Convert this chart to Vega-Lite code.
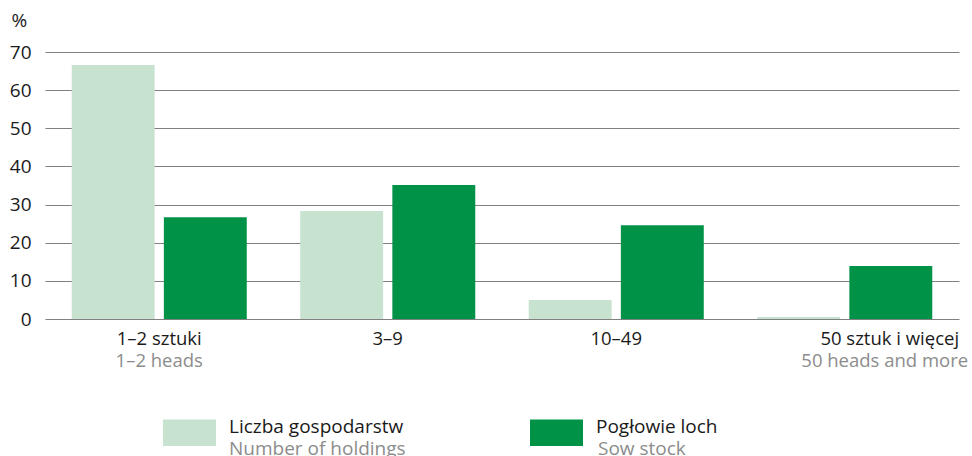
{
  "$schema": "https://vega.github.io/schema/vega-lite/v6.json",
  "width": 914,
  "height": 267,
  "autosize": {"type": "none"},
  "padding": {"left": 45, "top": 52, "right": 13, "bottom": 137},
  "config": {"font": "Open Sans", "view": {"stroke": null}},
  "data": {
    "values": [
      {"category": "1–2 sztuki", "series": "Liczba gospodarstw", "series_en": "Number of holdings", "value": 66.6},
      {"category": "1–2 sztuki", "series": "Pogłowie loch", "series_en": "Sow stock", "value": 26.7},
      {"category": "3–9", "series": "Liczba gospodarstw", "series_en": "Number of holdings", "value": 28.3},
      {"category": "3–9", "series": "Pogłowie loch", "series_en": "Sow stock", "value": 35.1},
      {"category": "10–49", "series": "Liczba gospodarstw", "series_en": "Number of holdings", "value": 5.0},
      {"category": "10–49", "series": "Pogłowie loch", "series_en": "Sow stock", "value": 24.6},
      {"category": "50 sztuk i więcej", "series": "Liczba gospodarstw", "series_en": "Number of holdings", "value": 0.5},
      {"category": "50 sztuk i więcej", "series": "Pogłowie loch", "series_en": "Sow stock", "value": 13.9}
    ]
  },
  "layer": [
    {
      "mark": {"type": "bar"},
      "encoding": {
        "x": {
          "field": "category", "type": "nominal",
          "sort": ["1–2 sztuki", "3–9", "10–49", "50 sztuk i więcej"],
          "scale": {"paddingInner": 0.234, "paddingOuter": 0.117},
          "axis": {
            "title": null, "orient": "bottom", "labelAngle": 0, "ticks": false, "domain": false, "grid": false,
            "labelFontSize": 18.5, "labelColor": "#1a1a1a", "labelPadding": 10, "labelOverlap": false, "labelBound": false,
            "labelOffset": {"condition": {"test": "datum.value === '50 sztuk i więcej'", "value": 45}, "value": 0}
          }
        },
        "xOffset": {"field": "series", "type": "nominal", "scale": {"paddingInner": 0.1, "paddingOuter": 0}},
        "y": {
          "field": "value", "type": "quantitative",
          "scale": {"domain": [0, 70], "nice": false},
          "axis": {
            "title": "%", "titleAngle": 0, "titleAlign": "left", "titleBaseline": "middle", "titleX": -34, "titleY": -32,
            "titleFontSize": 19, "titleFontWeight": "normal", "titleColor": "#1a1a1a",
            "values": [0, 10, 20, 30, 40, 50, 60, 70],
            "labelFontSize": 19, "labelColor": "#1a1a1a", "labelPadding": 14, "ticks": false, "domain": false,
            "gridColor": "#808080", "gridWidth": 1.2
          }
        },
        "color": {
          "field": "series", "type": "nominal",
          "scale": {"domain": ["Liczba gospodarstw", "Pogłowie loch"], "range": ["#c8e2d0", "#009348"]},
          "legend": {
            "orient": "none", "legendX": 118, "legendY": 354, "direction": "horizontal", "title": null,
            "symbolType": "M-1,-0.5H1V0.5H-1Z", "symbolSize": 2809, "symbolStrokeWidth": 0, "symbolOpacity": 1,
            "labelFontSize": 19, "labelColor": "#1a1a1a", "labelOffset": 13, "labelBaseline": "alphabetic",
            "columnPadding": 126, "padding": 0, "labelLimit": 400
          }
        }
      }
    },
    {
      "mark": {"type": "point", "opacity": 0},
      "encoding": {
        "x": {
          "field": "category", "type": "nominal",
          "sort": ["1–2 sztuki", "3–9", "10–49", "50 sztuk i więcej"],
          "axis": {
            "title": null, "orient": "bottom", "labelAngle": 0, "ticks": false, "domain": false, "grid": false,
            "labelFontSize": 18.5, "labelColor": "#8c8c8c", "labelPadding": 32, "labelOverlap": false, "labelBound": false,
            "labelExpr": "datum.value === '1–2 sztuki' ? '1–2 heads' : (datum.value === '50 sztuk i więcej' ? '50 heads and more' : '')",
            "labelOffset": {"condition": {"test": "datum.value === '50 sztuk i więcej'", "value": 40}, "value": 0}
          }
        },
        "shape": {
          "field": "series_en", "type": "nominal",
          "legend": {
            "orient": "none", "legendX": 118, "legendY": 376, "direction": "horizontal", "title": null,
            "symbolType": "M-1,-0.5H1V0.5H-1Z", "symbolSize": 2809, "symbolOpacity": 0, "symbolStrokeWidth": 0,
            "labelFontSize": 19, "labelColor": "#8c8c8c", "labelOffset": 13, "labelBaseline": "alphabetic",
            "columnPadding": 126, "padding": 0, "labelLimit": 400
          }
        }
      }
    }
  ],
  "resolve": {"axis": {"x": "independent"}, "legend": {"color": "independent", "shape": "independent"}}
}
